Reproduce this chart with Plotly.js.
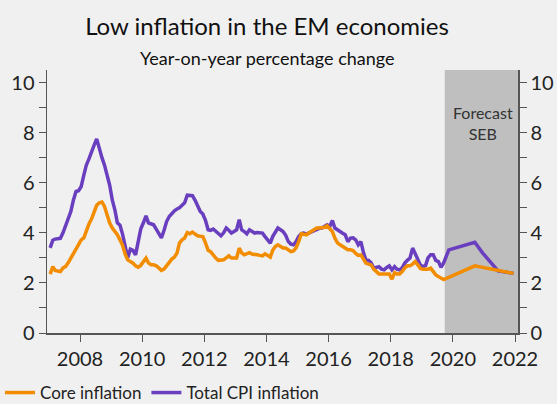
<!DOCTYPE html>
<html>
<head>
<meta charset="utf-8">
<script src="https://cdn.plot.ly/plotly-3.0.1.min.js"></script>
<style>html,body{margin:0;padding:0;background:#f0f0f0;}#chart{width:557px;height:404px;}</style>
</head>
<body>
<div id="chart"></div>
<script>
// Monthly history, Jan 2007 - Aug 2019
const historyStart = [2007, 1];
const coreHistory = [
  2.35,2.65,2.5,2.48,2.45,2.6,2.65,2.8,2.99,3.15,3.3,3.5,
  3.72,3.8,4.1,4.35,4.55,4.8,5.1,5.2,5.23,5.05,4.7,4.39,
  4.19,4.05,3.92,3.72,3.5,3.15,2.92,2.85,2.79,2.68,2.63,2.7,
  2.85,2.99,2.8,2.72,2.72,2.68,2.6,2.5,2.55,2.7,2.85,2.95,
  3.03,3.2,3.59,3.72,3.79,4.01,3.96,4.03,3.95,3.88,3.86,3.85,
  3.6,3.3,3.25,3.1,2.99,2.9,2.9,2.92,3.0,3.08,2.99,3.0,
  2.99,3.39,3.2,3.12,3.15,3.21,3.15,3.15,3.12,3.1,3.08,3.16,
  3.1,3.03,3.3,3.45,3.52,3.45,3.39,3.39,3.3,3.25,3.28,3.4,
  3.65,3.96,3.94,3.92,3.99,4.05,4.1,4.19,4.19,4.19,4.22,4.28,
  4.18,4.05,3.79,3.6,3.52,3.45,3.39,3.32,3.32,3.29,3.18,3.1,
  3.12,2.95,2.79,2.75,2.72,2.55,2.45,2.36,2.36,2.36,2.36,2.36,
  2.15,2.41,2.36,2.36,2.45,2.6,2.68,2.68,2.75,2.85,2.72,2.58,
  2.55,2.55,2.55,2.59,2.45,2.32,2.25,2.2
];
const totalHistory = [
  3.4,3.7,3.75,3.75,3.78,4.0,4.3,4.6,4.85,5.3,5.65,5.68,
  5.85,6.3,6.7,6.95,7.25,7.5,7.75,7.3,7.0,6.7,6.3,5.9,
  5.3,4.9,4.4,4.3,3.95,3.4,3.0,3.35,3.3,3.12,3.6,4.15,
  4.4,4.68,4.4,4.35,4.32,4.15,3.99,3.8,4.1,4.45,4.65,4.79,
  4.88,4.95,5.0,5.1,5.2,5.5,5.5,5.48,5.3,5.05,4.85,4.75,
  4.5,4.12,4.1,4.15,4.05,3.99,3.88,4.0,4.19,4.1,3.99,4.05,
  4.12,4.52,4.12,4.05,3.96,4.12,4.05,3.99,4.01,4.0,3.99,3.85,
  3.72,3.59,3.85,4.05,4.19,4.12,4.05,3.9,3.65,3.55,3.52,3.65,
  3.85,3.97,3.99,3.95,3.99,4.05,4.1,4.15,4.18,4.19,4.25,4.32,
  4.25,4.49,4.19,4.1,4.05,3.98,3.92,3.65,3.79,3.8,3.72,3.52,
  3.65,3.2,2.92,2.9,2.8,2.59,2.62,2.65,2.55,2.52,2.62,2.68,
  2.52,2.65,2.55,2.52,2.6,2.79,2.9,2.99,3.39,3.15,2.95,2.72,
  2.65,2.7,3.0,3.12,3.12,2.9,2.85,2.62
];
// Forecast (SEB)
const coreForecastDates = ["2019-09-15","2020-09-15","2021-12-15"];
const coreForecast = [2.13,2.68,2.38];
const totalForecastDates = ["2019-09-15","2019-11-15","2020-09-15","2020-12-15","2021-06-15","2021-12-15"];
const totalForecast = [2.8,3.32,3.62,3.2,2.48,2.38];
const forecastStart = "2019-09-28";
const seriesNames = ["Core inflation","Total CPI inflation"];
const yTicks = [0,2,4,6,8,10];

function monthDates(n){
  const out=[];
  for(let i=0;i<n;i++){
    const y=historyStart[0]+Math.floor((historyStart[1]-1+i)/12);
    const m=((historyStart[1]-1+i)%12)+1;
    out.push(y+"-"+String(m).padStart(2,"0")+"-15");
  }
  return out;
}
const hDates = monthDates(coreHistory.length);

const font = "Lato, 'Open Sans', sans-serif";
const orange = "#f28c00";
const purple = "#6a3fbf";

const traces = [
  {x: hDates.concat(totalForecastDates), y: totalHistory.concat(totalForecast), name: seriesNames[1],
   type:"scatter", mode:"lines", line:{color:purple, width:3.5}, legendrank:2, yaxis:"y"},
  {x: hDates.concat(coreForecastDates), y: coreHistory.concat(coreForecast), name: seriesNames[0],
   type:"scatter", mode:"lines", line:{color:orange, width:3.5}, legendrank:1, yaxis:"y2"}
];

const axisCommon = {
  range:[0,10.5], tickvals:yTicks, ticks:"outside", ticklen:7, tickcolor:"#555",
  showline:true, linecolor:"#555", linewidth:1.5, showgrid:false, zeroline:false,
  tickfont:{family:font, size:20, color:"#222"},
  minor:{dtick:1, ticks:"outside", ticklen:7, tickcolor:"#555"}
};

const layout = {
  width:557, height:404,
  paper_bgcolor:"#f0f0f0", plot_bgcolor:"#f0f0f0",
  margin:{l:47, r:39, t:70, b:71, autoexpand:false},
  font:{family:font, color:"#222"},
  title:{text:"Low inflation in the EM economies", font:{family:font, size:24, color:"#111"},
         x:267/557, xref:"container", xanchor:"center", y:1-27/404, yref:"container", yanchor:"middle"},
  xaxis:{type:"date", range:["2006-12-09","2022-02-05"], tickformat:"%Y", dtick:"M24", tick0:"2008-01-01",
         ticks:"outside", ticklen:7, tickcolor:"#555", showline:true, linecolor:"#555", linewidth:1.5,
         showgrid:false, zeroline:false, tickfont:{family:font, size:20, color:"#222"}, automargin:false},
  yaxis: Object.assign({}, axisCommon, {side:"left", automargin:false}),
  yaxis2: Object.assign({}, axisCommon, {side:"right", overlaying:"y", automargin:false}),
  showlegend:true,
  legend:{orientation:"h", xref:"container", yref:"container", x:-0.004, y:11/404, xanchor:"left", yanchor:"middle",
          font:{family:font, size:17, color:"#222"}, bgcolor:"rgba(0,0,0,0)", traceorder:"normal"},
  shapes:[{type:"rect", xref:"x", yref:"paper", x0:forecastStart, x1:"2022-02-05", y0:0, y1:1,
           fillcolor:"#bfbfbf", line:{width:0}, layer:"below"}],
  annotations:[
    {text:"Forecast<br>SEB", xref:"x", yref:"paper", x:"2020-12-15", y:(333-123)/263, showarrow:false,
     font:{family:font, size:16, color:"#333"}, align:"center", xanchor:"center", yanchor:"middle"},
    {text:"Year-on-year percentage change", xref:"paper", yref:"paper", x:(267-47)/471, y:(333-58)/263,
     showarrow:false, font:{family:font, size:18, color:"#111"}, xanchor:"center", yanchor:"middle"}
  ]
};

Plotly.newPlot("chart", traces, layout, {staticPlot:true, displayModeBar:false});
</script>
</body>
</html>
